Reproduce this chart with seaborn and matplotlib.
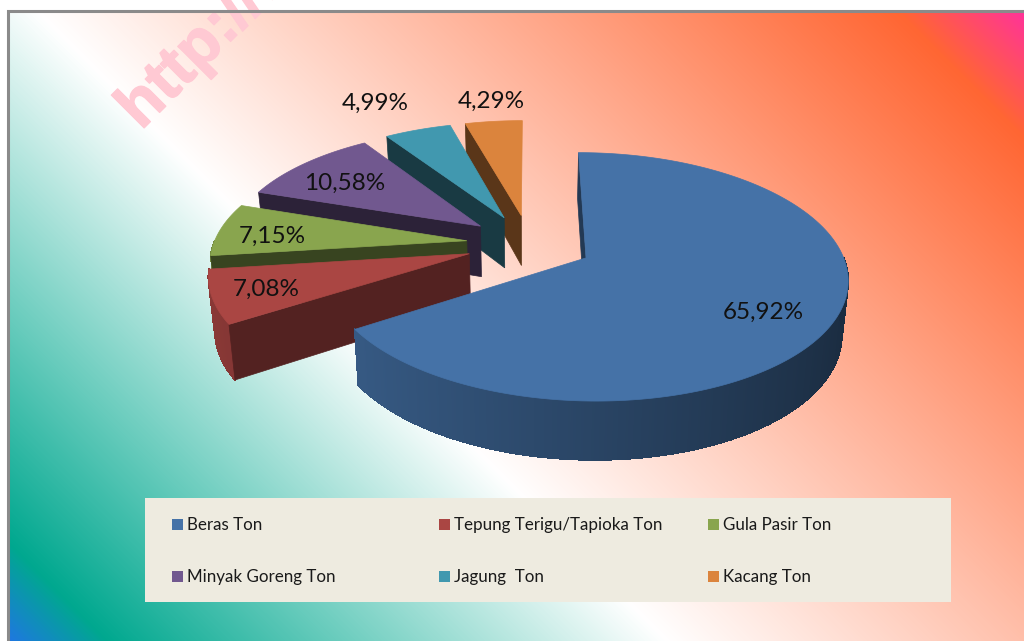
import numpy as np
import matplotlib
matplotlib.use("Agg")
import matplotlib.pyplot as plt
import matplotlib.patheffects as pe
from matplotlib.collections import PolyCollection
from matplotlib.colors import LinearSegmentedColormap
from matplotlib.patches import Rectangle
import seaborn as sns

categories = ["Beras Ton", "Tepung Terigu/Tapioka Ton", "Gula Pasir Ton",
              "Minyak Goreng Ton", "Jagung  Ton", "Kacang Ton"]
shares = [65.92, 7.08, 7.15, 10.58, 4.99, 4.29]
share_labels = ["65,92%", "7,08%", "7,15%", "10,58%", "4,99%", "4,29%"]

sns.set_theme(style="white")
plt.rcParams["font.family"] = ["Lato", "DejaVu Sans"]

palette = sns.color_palette(["#4572A7", "#AA4643", "#89A54E", "#71588F", "#4198AF", "#DB843D"])
wall_shade = [0.5, 0.49, 0.41, 0.39, 0.38, 0.41]

W, H = 1024, 641
fig = plt.figure(figsize=(W / 100, H / 100), dpi=100, facecolor="white")
ax = fig.add_axes([0, 0, 1, 1])

# The pie supplies each slice's angles and exploded centre.
wedges, _ = ax.pie(shares, explode=[0.25] * len(shares), startangle=90, counterclock=False)
slices = [(w.theta1, w.theta2, w.center, w.r) for w in wedges]
for w in wedges:
    w.remove()

ax.set_aspect("auto")
ax.axis("off")

# Diagonal page background.
left, top = 8, 10
px, py = np.meshgrid(np.arange(left, W + 1), np.arange(top, H + 1))
diag = px + (H - py)
stops = [(8, "#1e78e0"), (105, "#00a88f"), (665, "#ffffff"), (1530, "#ff6633"), (1655, "#ff3399")]
span = stops[-1][0] - stops[0][0]
cmap = LinearSegmentedColormap.from_list(
    "page", [((t - stops[0][0]) / span, c) for t, c in stops], N=512)
ax.imshow(diag, cmap=cmap, vmin=stops[0][0], vmax=stops[-1][0],
          extent=(left, W, H, top), aspect="auto", zorder=0, interpolation="bilinear")
ax.set_xlim(0, W)
ax.set_ylim(H, 0)

ax.text(141, 131, "http://www.", rotation=45, rotation_mode="anchor", ha="left", va="baseline",
        fontsize=46, fontweight="bold", family="Liberation Sans", color="#ffc9d3", zorder=1,
        path_effects=[pe.withStroke(linewidth=1, foreground="#ffc9d3")])
ax.plot([left, left, W], [H, top + 1, top + 1], color="#8a8a8a", lw=2.2, zorder=1.5,
        solid_joinstyle="miter")


# Tilted-disc projection of pie coordinates to the page.
def project_top(x, y):
    w = 1 + 0.15 * y
    return 529.5 + 253 * x / w, 243.6 - 117 * y / w


def project_bottom(x, y):
    sx, sy = project_top(x, y)
    return 529.5 + (sx - 529.5) * 0.98, sy + 51.5 - 6.5 * y


z = 2
for i in [5, 4, 3, 2, 1, 0]:
    theta1, theta2, (cx, cy), r = slices[i]
    base = np.array(palette[i])
    ang = np.radians(np.linspace(theta1, theta2, max(8, int(theta2 - theta1) * 2)))
    rx, ry = cx + r * np.cos(ang), cy + r * np.sin(ang)

    # Outer rim on the near side, shaded from the light on the left.
    tx, ty = project_top(rx, ry)
    bx, by = project_bottom(rx, ry)
    quads, colors = [], []
    for k in range(len(ang) - 1):
        mid = (ang[k] + ang[k + 1]) / 2
        if np.sin(mid) < 0:
            quads.append([(tx[k], ty[k]), (tx[k + 1], ty[k + 1]), (bx[k + 1], by[k + 1]), (bx[k], by[k])])
            colors.append(tuple(base * np.clip(0.6 - 0.22 * np.cos(mid), 0, 1)))
    if quads:
        ax.add_collection(PolyCollection(quads, facecolors=colors, edgecolors=colors,
                                         linewidths=0.6, antialiaseds=False, zorder=z))

    # Radial wall along the slice's leading edge, the one that faces the viewer.
    ex, ey = cx + r * np.cos(np.radians(theta2)), cy + r * np.sin(np.radians(theta2))
    a, b = project_top(np.array([cx, ex]), np.array([cy, ey]))
    c, d = project_bottom(np.array([ex, cx]), np.array([ey, cy]))
    ax.fill(np.r_[a, c], np.r_[b, d], color=base * wall_shade[i], lw=0.5, zorder=z)

    # Top face.
    fx, fy = project_top(np.r_[cx, rx], np.r_[cy, ry])
    ax.fill(fx, fy, color=base, lw=0.5, zorder=z)
    z += 1

ax.set_xlim(0, W)
ax.set_ylim(H, 0)

# Percentage labels.
label_xy = [(763, 312), (266, 289), (272, 236), (345, 183), (375, 103), (491, 101)]
for text, (lx, ly) in zip(share_labels, label_xy):
    ax.text(lx, ly, text, ha="center", va="center", fontsize=17.5, color="#111111", zorder=20)

# Legend panel.
ax.add_patch(Rectangle((145, 498), 806, 104, facecolor="#EEEBE0", edgecolor="none", zorder=20))
legend_x = [172, 439, 708]
legend_y = [525, 577]
for i, name in enumerate(categories):
    sx, sy = legend_x[i % 3], legend_y[i // 3]
    ax.add_patch(Rectangle((sx, sy - 6), 11, 11, facecolor=palette[i], edgecolor="none", zorder=21))
    ax.text(sx + 15, sy, name, ha="left", va="center", fontsize=12.25, color="#1a1a1a", zorder=21)

fig.savefig("out.png", dpi=100)
